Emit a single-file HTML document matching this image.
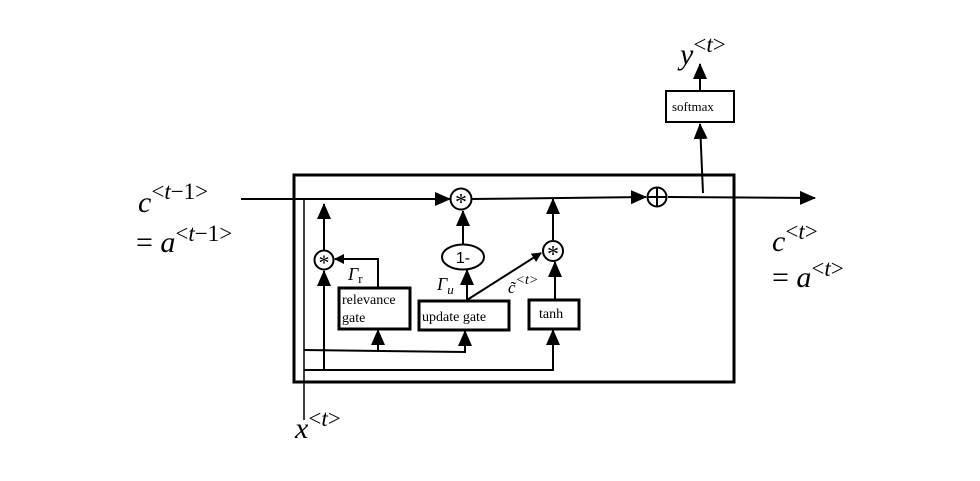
<!DOCTYPE html>
<html><head><style>body{margin:0;background:#fff}svg{display:block}</style></head><body>
<svg width="980" height="481" viewBox="0 0 980 481" xmlns="http://www.w3.org/2000/svg">
<defs><marker id="a" markerWidth="10" markerHeight="10" refX="9" refY="5" orient="auto" markerUnits="userSpaceOnUse"><path d="M0,0L10,5L0,10Z" fill="#000"/></marker>
<marker id="b" markerWidth="16" markerHeight="14" refX="15" refY="7" orient="auto" markerUnits="userSpaceOnUse"><path d="M0,0L16,7L0,14Z" fill="#000"/></marker></defs>
<g fill="none" stroke="#000" stroke-width="2">
<rect x="294" y="175" width="440" height="207" stroke-width="3"/>
<line x1="241" y1="199" x2="450" y2="199" marker-end="url(#b)"/>
<line x1="471" y1="199" x2="646" y2="197" marker-end="url(#b)"/>
<line x1="668" y1="197" x2="815" y2="198" marker-end="url(#b)"/>
<line x1="703" y1="193" x2="700" y2="124" marker-end="url(#b)"/>
<line x1="700" y1="90" x2="700" y2="64" marker-end="url(#b)"/>
<rect x="666" y="91" width="68" height="31"/>
<line x1="304" y1="199" x2="304" y2="420" stroke-width="1.5"/>
<polyline points="304,370 553,370 553,330" marker-end="url(#b)"/>
<polyline points="304,350 465,352 465,331" marker-end="url(#b)"/>
<line x1="378" y1="350" x2="378" y2="330" marker-end="url(#b)"/>
<line x1="324" y1="370" x2="324" y2="271" marker-end="url(#b)"/>
<line x1="324" y1="250" x2="324" y2="204" marker-end="url(#b)"/>
<polyline points="378,288 378,259 335,259" marker-end="url(#a)"/>
<circle cx="324" cy="260" r="9.5"/>
<circle cx="461" cy="199" r="10.5"/>
<circle cx="553" cy="251" r="10"/>
<circle cx="657" cy="197" r="9.5"/><line x1="647" y1="197" x2="667" y2="197"/><line x1="657" y1="187" x2="657" y2="207"/>
<ellipse cx="463" cy="257" rx="21" ry="12.5"/>
<line x1="463" y1="244" x2="463" y2="211" marker-end="url(#b)"/>
<line x1="467" y1="300" x2="467" y2="270" marker-end="url(#b)"/>
<line x1="467" y1="300" x2="541" y2="253" marker-end="url(#a)"/>
<line x1="555" y1="300" x2="555" y2="262" marker-end="url(#b)"/>
<line x1="553" y1="240" x2="553" y2="199" marker-end="url(#b)"/>
<rect x="339" y="288" width="71" height="41" stroke-width="3"/>
<rect x="419" y="301" width="90" height="29" stroke-width="3"/>
<rect x="529" y="300" width="50" height="29" stroke-width="3"/>
</g>
<g font-family="Liberation Serif, serif" fill="#000">
<text x="342" y="304" font-size="14">relevance</text>
<text x="342" y="322" font-size="14">gate</text>
<text x="422" y="321" font-size="14">update gate</text>
<text x="539" y="318" font-size="14">tanh</text>
<text x="672" y="111" font-size="13">softmax</text>
<text x="463" y="263" font-size="16" text-anchor="middle" font-family="Liberation Sans, sans-serif">1-</text>
<text x="324" y="270" font-size="22" text-anchor="middle">*</text>
<text x="461" y="210" font-size="24" text-anchor="middle">*</text>
<text x="553" y="262" font-size="24" text-anchor="middle">*</text>
<text x="348" y="280" font-size="18" font-style="italic">Γ<tspan font-style="normal" font-size="13" dy="3">r</tspan></text>
<text x="437" y="290" font-size="18" font-style="italic">Γ<tspan font-size="13" dy="4">u</tspan></text>
<text x="508" y="293" font-size="17" font-style="italic">c̃<tspan font-size="14" dy="-9">&lt;t&gt;</tspan></text>
<g font-size="30" font-style="italic">
<text x="138" y="212">c<tspan font-size="23" font-style="normal" dy="-13">&lt;<tspan font-style="italic">t</tspan>−1&gt;</tspan></text>
<text x="136" y="252"><tspan font-style="normal">= </tspan>a<tspan font-size="23" font-style="normal" dy="-11">&lt;<tspan font-style="italic">t</tspan>−1&gt;</tspan></text>
<text x="772" y="251">c<tspan font-size="23" font-style="normal" dy="-12">&lt;<tspan font-style="italic">t</tspan>&gt;</tspan></text>
<text x="772" y="287"><tspan font-style="normal">= </tspan>a<tspan font-size="23" font-style="normal" dy="-11">&lt;<tspan font-style="italic">t</tspan>&gt;</tspan></text>
<text x="680" y="64">y<tspan font-size="23" font-style="normal" dy="-12">&lt;<tspan font-style="italic">t</tspan>&gt;</tspan></text>
<text x="295" y="438">x<tspan font-size="23" font-style="normal" dy="-12">&lt;<tspan font-style="italic">t</tspan>&gt;</tspan></text>
</g>
</g>
</svg>
</body></html>
